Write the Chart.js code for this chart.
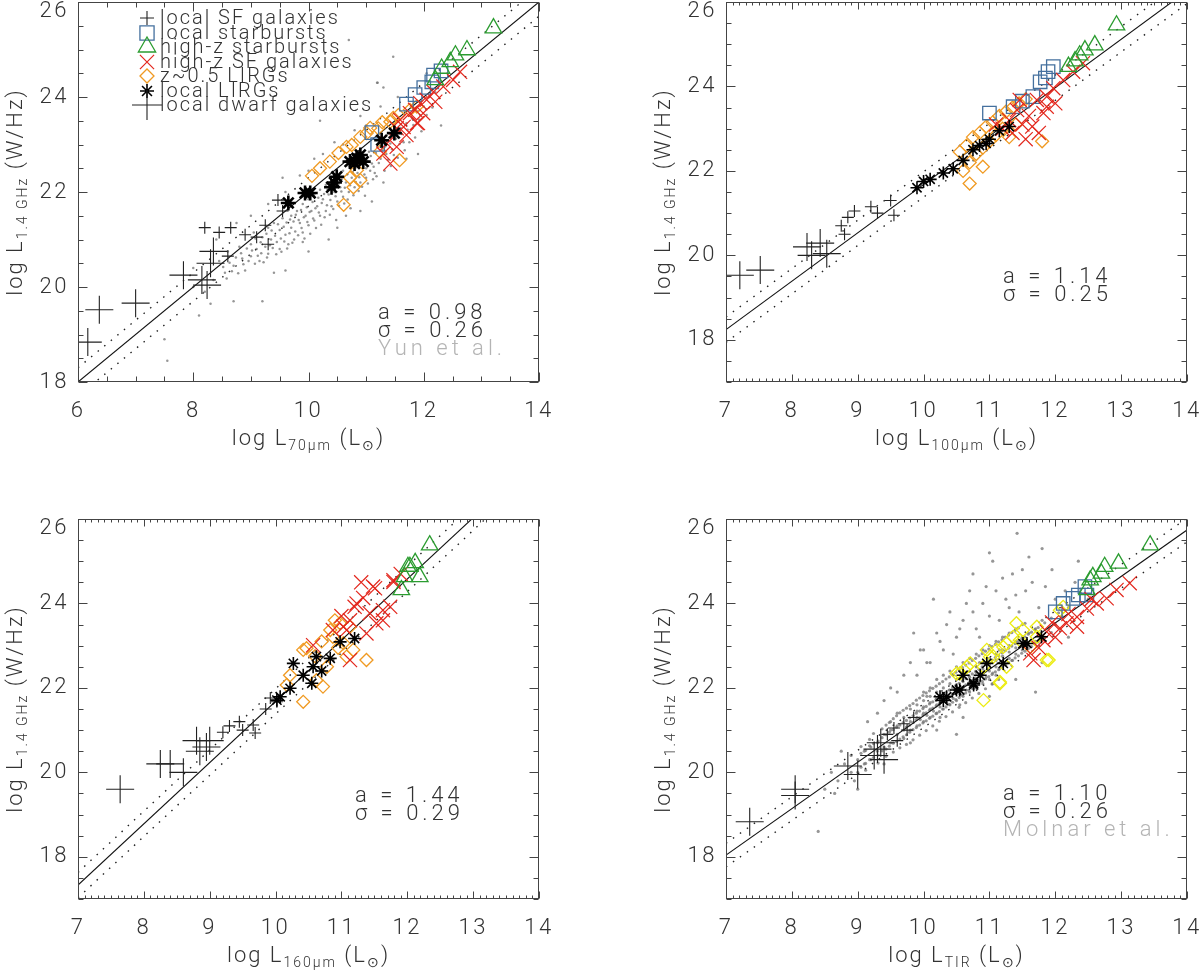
<!DOCTYPE html>
<html><head><meta charset="utf-8">
<script src="https://cdn.jsdelivr.net/npm/chart.js@4.4.1/dist/chart.umd.min.js"></script>
<style>
html,body{margin:0;padding:0;background:#fff;}
body{width:1200px;height:974px;position:relative;overflow:hidden;}
canvas{position:absolute;}
</style></head><body>
<canvas id="c1" width="600" height="487" style="left:0;top:0"></canvas>
<canvas id="c2" width="600" height="487" style="left:600px;top:0"></canvas>
<canvas id="c3" width="600" height="487" style="left:0;top:487px"></canvas>
<canvas id="c4" width="600" height="487" style="left:600px;top:487px"></canvas>
<script>
// ================= DATA =================
const legendLabels = ['local SF galaxies','local starbursts','high-z starbursts','high-z SF galaxies','z~0.5 LIRGs','local LIRGs','local dwarf galaxies'];
const xBandNames = ['70μm','100μm','160μm','TIR'];
const fitAText = ['0.98','1.14','1.44','1.10'];
const fitSigmaText = ['0.26','0.25','0.29','0.26'];
const refNames = ['Yun et al.','','','Molnar et al.'];
const xTickValuesP1 = [6,8,10,12,14];
const xTickValues = [7,8,9,10,11,12,13,14];
const yTickValues = [18,20,22,24,26];
// fit lines: y = fitY0 + fitSlope*(x - fitX0), dotted = +/- fitBand
const fitX0 = [6,7,7,7];
const fitY0 = [18.0,18.24,17.33,18.04];
const fitSlope = [1.0,1.146,1.45,1.10];
const fitBand = [0.3,0.3,0.3,0.28];

// ---- Panel 1 : L70um ----
const p1Grey = [[8.35,20.15],[8.45,20.55],[8.55,20.3],[8.6,20.75],[8.7,20.45],[8.8,20.85],[8.85,20.6],[8.9,20.35],[9.0,20.9],[9.0,20.65],[9.05,21.15],[9.1,20.8],[9.15,20.55],[9.2,21.05],[9.25,20.85],[9.3,21.25],[9.3,20.7],[9.35,21.0],[9.4,21.35],[9.45,20.95],[9.5,21.2],[9.5,20.8],[9.55,21.45],[9.6,21.1],[9.65,20.9],[9.7,21.5],[9.7,21.25],[9.75,21.0],[9.8,21.6],[9.85,21.35],[9.9,21.15],[9.9,21.75],[9.95,21.5],[10.0,21.3],[10.0,21.85],[10.05,21.6],[10.1,21.4],[10.1,21.95],[10.15,21.7],[10.2,21.5],[10.2,22.05],[10.25,21.85],[10.3,21.6],[10.3,22.15],[10.35,21.95],[10.4,21.7],[10.4,22.25],[10.45,22.0],[10.5,21.8],[10.5,22.35],[10.55,22.1],[10.6,21.9],[10.6,22.45],[10.65,22.2],[10.7,22.0],[10.7,22.55],[10.75,22.3],[10.8,22.1],[10.8,22.65],[10.85,22.4],[10.9,22.2],[10.95,22.75],[11.0,22.5],[11.0,22.3],[11.05,22.85],[11.1,22.6],[11.15,22.4],[11.2,22.95],[11.25,22.7],[11.3,23.05],[11.35,22.8],[11.4,23.15],[11.45,22.9],[11.5,23.25],[11.6,23.35],[11.65,23.05],[11.7,23.45],[11.8,23.55],[11.9,23.7],[12.0,23.8],[12.1,24.0],[12.2,24.1],[7.5,18.9],[7.55,18.45],[8.2,19.9],[8.3,19.65],[9.2,19.7],[8.75,21.35],[9.3,21.75],[9.6,22.0],[10.0,22.45],[10.25,22.8],[10.6,23.0],[11.0,23.4],[11.25,23.8],[11.2,24.3],[10.7,25.2],[11.47,24.85],[10.2,23.5],[12.3,23.4],[11.7,22.7],[10.9,21.6],[10.0,20.75],[9.4,20.3],[10.5,21.25],[11.3,22.2],[8.0,20.0],[8.1,19.4],[9.85,22.35],[10.8,23.3],
[8.52,20.42],[8.58,20.18],[8.63,20.51],[8.67,20.33],[8.74,20.62],[8.78,20.29],[8.83,20.71],[8.87,20.48],[8.93,20.81],[8.96,20.55],[9.02,20.77],[9.07,20.49],[9.08,21.02],[9.12,20.66],[9.17,20.94],[9.18,20.71],[9.22,20.52],[9.27,21.12],[9.28,20.62],[9.33,20.88],[9.36,21.19],[9.38,20.82],[9.42,21.08],[9.44,20.69],[9.47,21.32],[9.52,21.02],[9.53,20.74],[9.57,21.27],[9.58,20.96],[9.62,21.36],[9.63,20.81],[9.67,21.13],[9.68,21.42],[9.72,20.93],[9.74,21.38],[9.77,21.17],[9.78,21.52],[9.82,21.09],[9.83,21.41],[9.87,21.62],[9.88,21.24],[9.92,21.47],[9.93,21.02],[9.97,21.68],[9.98,21.37],[10.02,21.58],[10.03,21.12],[10.07,21.79],[10.08,21.44],[10.12,21.66],[10.13,21.24],[10.17,21.88],[10.18,21.57],[10.22,21.31],[10.23,21.77],[10.27,21.96],[10.28,21.47],[10.32,21.72],[10.33,22.05],[10.37,21.52],[10.38,21.83],[10.42,22.12],[10.43,21.64],[10.47,21.91],[10.48,21.41],[10.52,22.17],[10.53,21.71],[10.57,22.01],[10.58,22.28],[10.62,21.76],[10.63,22.09],[10.67,22.37],[10.68,21.84],[10.72,22.14],[10.73,21.66],[10.77,22.42],[10.78,21.93],[10.82,22.21],[10.83,22.52],[10.87,22.02],[10.88,22.31],[10.92,22.58],[10.93,22.11],[10.97,22.37],[10.98,21.92],[11.02,22.66],[11.03,22.18],[11.07,22.45],[11.08,22.76],[11.12,22.27],[11.13,22.53],[11.17,22.82],[11.18,22.33],[11.22,22.61],[11.28,22.88],[11.32,22.45],[11.33,22.96],[11.38,22.68],[11.42,23.02],[11.43,22.55],[11.48,22.78],[11.52,23.12],[11.55,22.72],[11.58,23.01],[11.62,23.22],[11.67,22.88],[11.72,23.31],[11.75,23.05],[11.82,23.41],[11.85,23.15],[11.92,23.52],[11.96,23.28],[12.05,23.62],[12.15,23.78],
[8.0,20.4],[8.4,21.0],[9.0,21.5],[9.55,22.3],[10.1,22.7],[10.45,23.05],[10.9,23.6],[11.55,24.0],[12.05,24.5],[8.7,19.7],[9.6,20.35],[10.35,21.0],[11.1,21.8],[11.9,22.8],[9.9,20.95],[10.65,21.5],[11.19,24.3],[11.3,24.2]];
const p1LocalSF = [[8.2,21.25],[8.45,21.15],[8.65,21.25],[8.9,21.1],[9.25,21.3],[9.3,20.9],[9.47,21.83],[9.55,21.6],[8.6,20.65],[9.1,21.05]];
const p1Starburst = [[11.1,23.25],[11.2,23.0],[11.7,23.85],[11.85,24.05],[12.0,24.2],[12.14,24.32],[12.17,24.46],[12.3,24.55]];
const p1HighzSB = [[13.21,25.45],[12.75,24.99],[12.55,24.88],[12.46,24.74],[12.31,24.6],[12.2,24.36]];
const p1HighzSF = [[12.63,24.53],[12.51,24.36],[12.34,24.22],[12.17,24.11],[12.05,23.94],[11.94,23.87],[11.85,23.73],[11.76,23.66],[11.59,23.52],[11.53,23.34],[11.65,23.37],[11.9,23.45],[11.36,23.02],[11.3,22.81],[11.42,22.6],[11.53,22.95],[11.99,23.66],[11.88,23.45],[12.2,23.9],[11.7,23.2]];
const p1Lirg05 = [[10.06,22.34],[10.2,22.5],[10.37,22.64],[10.52,22.82],[10.66,22.95],[10.75,22.99],[10.9,23.16],[11.01,23.24],[11.21,23.34],[11.42,23.48],[11.56,23.62],[10.72,22.3],[10.78,22.1],[10.9,22.25],[10.61,21.73],[11.58,22.67],[11.24,22.85],[10.84,22.46],[11.76,23.73],[11.88,23.8],[11.47,23.56],[11.28,23.47],[11.07,23.35]];
const p1LocalLirg = [[9.65,21.77],[9.94,21.98],[10.03,21.98],[10.4,22.1],[10.49,22.32],[10.72,22.64],[10.84,22.71],[10.95,22.64],[10.9,22.78],[11.27,23.09],[11.49,23.24],[10.45,22.2],[10.8,22.6]];
const p1Dwarf = [[6.17,18.84],[6.37,19.52],[7.0,19.66],[7.83,20.25],[8.15,20.15],[8.24,20.04],[8.3,20.5],[8.35,20.75]];

// ---- Panel 2 : L100um ----
const p2LocalSF = [[8.75,20.7],[8.85,20.9],[8.95,21.05],[9.2,21.15],[9.3,21.0],[9.55,20.95],[9.5,21.3],[8.8,20.5]];
const p2Starburst = [[11.66,23.76],[11.77,24.11],[11.89,24.35],[11.97,24.47],[11.36,23.52],[11.0,23.37],[11.5,23.65],[11.85,24.2]];
const p2HighzSB = [[12.93,25.45],[12.6,24.98],[12.45,24.86],[12.37,24.74],[12.2,24.47],[12.3,24.6]];
const p2HighzSF = [[12.42,24.55],[12.27,24.35],[12.12,24.15],[11.97,23.96],[11.87,23.76],[11.72,23.68],[11.46,23.68],[11.87,23.52],[11.82,23.37],[11.42,23.44],[11.6,23.3],[11.3,23.2],[11.2,23.0],[11.5,23.1],[11.65,23.05],[11.1,23.1],[11.35,22.9],[12.0,23.6],[11.75,22.9],[11.55,22.75]];
const p2Lirg05 = [[10.55,22.45],[10.65,22.6],[10.75,22.8],[10.85,22.9],[10.95,23.05],[11.05,23.15],[11.15,23.3],[11.25,23.4],[11.35,23.5],[11.45,23.6],[11.55,23.7],[10.7,22.2],[10.8,22.4],[10.9,22.55],[11.0,22.7],[11.1,22.85],[11.2,23.0],[10.6,22.0],[10.7,21.7],[10.9,22.1],[11.8,22.7],[11.4,23.1],[11.3,22.8]];
const p2LocalLirg = [[9.9,21.6],[10.0,21.75],[10.1,21.8],[10.3,21.95],[10.45,22.05],[10.6,22.25],[10.75,22.5],[10.85,22.6],[11.0,22.75],[11.15,22.95],[11.3,23.05],[10.95,22.65]];
const p2Dwarf = [[7.21,19.53],[7.52,19.65],[8.23,20.2],[8.53,20.04],[8.43,20.29],[8.3,20.0]];

// ---- Panel 3 : L160um ----
const p3LocalSF = [[9.3,21.1],[9.45,21.2],[9.5,21.0],[9.66,21.12],[9.69,20.93],[9.92,21.76],[10.02,21.67],[9.85,21.5],[9.2,20.95]];
const p3HighzSB = [[12.34,25.38],[12.01,24.87],[12.12,24.96],[12.19,24.63],[11.96,24.63],[11.91,24.32],[12.04,24.87]];
const p3HighzSF = [[11.79,24.51],[11.51,24.36],[11.33,24.13],[11.2,23.92],[11.63,23.84],[11.74,23.92],[11.43,23.77],[11.13,23.6],[11.53,23.53],[11.08,23.37],[11.38,23.29],[10.87,23.37],[11.13,22.66],[11.23,24.0],[11.48,24.4],[11.03,23.45],[10.57,23.01],[11.63,23.6],[11.79,24.55],[11.9,24.7],[11.3,24.5],[11.0,23.7]];
const p3Lirg05 = [[10.42,22.9],[10.83,23.37],[10.87,23.21],[10.98,23.53],[11.13,23.45],[11.08,22.74],[11.38,22.66],[10.78,22.5],[10.22,22.3],[10.17,22.07],[10.42,21.67],[10.62,22.18],[11.03,23.06],[10.72,22.03],[10.47,22.94],[11.18,22.9],[10.9,23.6],[10.7,23.1],[10.95,22.95],[10.6,22.75]];
const p3LocalLirg = [[10.98,23.09],[11.2,23.17],[10.83,22.7],[10.57,22.5],[10.42,22.3],[10.27,22.58],[10.55,22.11],[10.22,21.99],[10.07,21.79],[10.02,21.71],[10.62,22.74],[10.7,22.4]];
const p3Dwarf = [[7.64,19.6],[8.25,20.2],[8.4,20.2],[8.6,20.0],[8.8,20.75],[8.95,20.6],[8.85,20.5],[9.0,20.75]];

// ---- Panel 4 : LTIR ----
const p4Grey = [[8.5,19.6],[8.6,20.0],[8.7,19.8],[8.8,20.2],[8.9,20.0],[8.9,20.4],[9.0,20.3],[9.0,20.0],[9.1,20.5],[9.1,20.2],[9.2,20.6],[9.2,20.3],[9.3,20.7],[9.3,20.5],[9.4,20.9],[9.4,20.6],[9.5,21.0],[9.5,20.7],[9.5,21.2],[9.6,20.9],[9.6,21.1],[9.6,21.4],[9.7,21.0],[9.7,21.3],[9.7,20.8],[9.8,21.2],[9.8,21.5],[9.8,21.0],[9.9,21.3],[9.9,21.6],[9.9,21.1],[10.0,21.4],[10.0,21.7],[10.0,21.2],[10.0,21.9],[10.1,21.5],[10.1,21.8],[10.1,21.3],[10.1,22.0],[10.2,21.6],[10.2,21.9],[10.2,21.4],[10.2,22.2],[10.3,21.7],[10.3,22.0],[10.3,21.5],[10.3,22.3],[10.4,21.8],[10.4,22.1],[10.4,21.6],[10.4,22.4],[10.5,21.9],[10.5,22.2],[10.5,21.7],[10.5,22.5],[10.6,22.0],[10.6,22.3],[10.6,21.8],[10.6,22.6],[10.7,22.1],[10.7,22.4],[10.7,21.9],[10.7,22.7],[10.8,22.2],[10.8,22.5],[10.8,22.0],[10.8,22.8],[10.9,22.3],[10.9,22.6],[10.9,22.1],[10.9,22.9],[11.0,22.4],[11.0,22.7],[11.0,22.2],[11.0,23.0],[11.1,22.5],[11.1,22.8],[11.1,22.3],[11.1,23.1],[11.2,22.6],[11.2,22.9],[11.2,23.2],[11.3,22.7],[11.3,23.0],[11.3,23.3],[11.4,22.8],[11.4,23.1],[11.4,23.4],[11.5,22.9],[11.5,23.2],[11.5,23.5],[11.6,23.0],[11.6,23.3],[11.7,23.1],[11.7,23.4],[11.8,23.2],[11.8,23.6],[11.9,23.4],[12.0,23.5],[12.1,23.7],[12.2,23.9],[9.3,21.4],[9.6,21.9],[9.9,22.3],[10.1,22.6],[10.3,22.9],[10.5,23.2],[10.6,23.6],[10.8,23.4],[10.9,24.0],[11.0,23.7],[11.1,24.3],[11.2,24.6],[11.3,23.9],[11.4,24.2],[11.5,24.8],[11.6,25.1],[11.42,25.66],[10.75,24.7],[11.05,25.0],[11.85,24.4],[12.0,24.1],[10.2,23.3],[10.4,23.8],[9.8,22.6],[9.5,22.0],[10.7,24.3],[11.8,25.3],[12.3,24.5],[10.0,22.9],[11.25,24.1],[9.0,19.6],[9.4,20.2],[9.8,20.7],[10.2,21.0],[10.6,21.3],[11.0,21.8],[11.4,22.2],[11.8,22.6],[12.2,23.2],[8.4,18.6],[10.5,20.9],[11.7,21.9],[9.9,21.45],[10.0,21.55],[10.05,21.35],[10.1,21.65],[10.15,21.45],[10.2,21.75],[10.25,21.55],[10.3,21.85],[10.35,21.65],[10.4,21.95],[10.45,21.75],[10.5,22.05],[10.55,21.85],[10.6,22.15],[10.65,21.95],[10.7,22.25],[10.75,22.05],[10.8,22.35],[10.85,22.15],[10.9,22.45],[10.95,22.25],[11.0,22.55],[11.05,22.35],[11.1,22.65],[11.15,22.45],[11.2,22.75],[11.25,22.55],[11.3,22.85],[11.35,22.65],[11.4,22.95],[9.95,21.25],[10.05,21.8],[10.25,21.3],[10.45,22.3],[10.55,21.6],[10.85,22.6],[11.05,22.1],[11.15,22.9],
[9.05,20.12],[9.05,20.45],[9.05,20.61],[9.12,20.21],[9.12,20.52],[9.12,20.05],[9.18,20.63],[9.18,20.30],[9.18,20.78],[9.24,20.35],[9.24,20.68],[9.24,20.92],[9.31,20.41],[9.31,20.74],[9.31,20.22],[9.37,20.82],[9.37,20.51],[9.37,21.03],[9.43,20.55],[9.43,20.89],[9.43,20.38],[9.43,21.12],[9.48,20.95],[9.48,20.62],[9.48,21.18],[9.54,20.69],[9.54,21.01],[9.54,20.48],[9.54,21.27],[9.59,21.07],[9.59,20.73],[9.59,21.34],[9.64,20.79],[9.64,21.12],[9.64,20.58],[9.64,21.41],[9.69,21.18],[9.69,20.84],[9.69,21.47],[9.74,20.89],[9.74,21.23],[9.74,20.66],[9.74,21.52],[9.74,21.07],[9.79,21.29],[9.79,20.95],[9.79,21.58],[9.79,21.12],[9.84,21.01],[9.84,21.34],[9.84,20.77],[9.84,21.63],[9.84,21.18],[9.89,21.40],[9.89,21.06],[9.89,21.71],[9.89,21.25],[9.94,21.12],[9.94,21.45],[9.94,20.88],[9.94,21.76],[9.94,21.29],[9.99,21.51],[9.99,21.17],[9.99,21.82],[9.99,21.36],[10.04,21.22],[10.04,21.56],[10.04,20.99],[10.04,21.88],[10.04,21.41],[10.09,21.62],[10.09,21.28],[10.09,21.93],[10.09,21.47],[10.14,21.33],[10.14,21.67],[10.14,21.10],[10.14,21.99],[10.14,21.52],[10.19,21.73],[10.19,21.39],[10.19,22.04],[10.19,21.57],[10.24,21.44],[10.24,21.78],[10.24,21.21],[10.24,22.10],[10.24,21.63],[10.29,21.84],[10.29,21.50],[10.29,22.15],[10.29,21.68],[10.34,21.55],[10.34,21.89],[10.34,21.32],[10.34,22.21],[10.34,21.74],[10.39,21.95],[10.39,21.61],[10.39,22.26],[10.39,21.79],[10.44,21.66],[10.44,22.00],[10.44,21.43],[10.44,22.32],[10.44,21.85],[10.49,22.06],[10.49,21.72],[10.49,22.37],[10.49,21.90],[10.54,21.77],[10.54,22.11],[10.54,21.54],[10.54,22.43],[10.54,21.96],[10.59,22.17],[10.59,21.83],[10.59,22.48],[10.59,22.01],[10.64,21.88],[10.64,22.22],[10.64,21.65],[10.64,22.54],[10.64,22.07],[10.69,22.28],[10.69,21.94],[10.69,22.59],[10.69,22.12],[10.74,21.99],[10.74,22.33],[10.74,21.76],[10.74,22.65],[10.74,22.18],[10.79,22.39],[10.79,22.05],[10.79,22.70],[10.79,22.23],[10.84,22.10],[10.84,22.44],[10.84,21.87],[10.84,22.76],[10.84,22.29],[10.89,22.50],[10.89,22.16],[10.89,22.81],[10.89,22.34],[10.94,22.21],[10.94,22.55],[10.94,21.98],[10.94,22.87],[10.94,22.40],[10.99,22.61],[10.99,22.27],[10.99,22.92],[11.04,22.32],[11.04,22.66],[11.04,22.09],[11.04,22.98],[11.09,22.72],[11.09,22.38],[11.09,23.03],[11.14,22.43],[11.14,22.77],[11.14,22.20],[11.14,23.09],[11.19,22.83],[11.19,22.49],[11.19,23.14],[11.24,22.54],[11.24,22.88],[11.24,23.20],[11.29,22.94],[11.29,22.60],[11.29,23.25],[11.34,22.65],[11.34,22.99],[11.34,23.31],[11.39,23.05],[11.39,22.71],[11.39,23.36],[11.44,22.76],[11.44,23.10],[11.44,23.42],[11.49,23.16],[11.49,22.82],[11.54,22.87],[11.54,23.21],[11.54,23.53],[11.59,23.27],[11.59,22.93],[11.64,22.98],[11.64,23.32],[11.69,23.38],[11.69,23.04],[11.74,23.09],[11.74,23.43],[11.84,23.20],[11.84,23.54],[11.94,23.31],[11.94,23.65],[12.05,23.78],
[9.7,22.3],[10.05,22.6],[10.25,23.1],[10.45,22.8],[10.55,23.4],[10.65,24.0],[10.85,23.2],[10.95,24.4],[11.15,23.6],[11.35,24.7],[11.45,23.8],[11.65,24.5],[11.75,23.9],[11.95,24.8],[12.15,24.3],[10.35,23.5],[9.95,22.9],[10.75,23.8],[11.55,24.3],[12.35,25.0],[10.15,24.1],[11.0,25.2],[9.85,23.3],[9.4,21.7],[9.15,21.2],[8.75,20.5],[8.65,19.5],[8.95,19.8],[12.5,24.1]];
const p4LocalSF = [[9.45,20.9],[9.55,21.05],[9.7,21.15],[9.85,21.3],[9.6,20.75],[9.75,21.0]];
const p4Starburst = [[12.45,24.4],[12.27,24.12],[12.12,24.0],[12.0,23.8],[12.48,24.2],[12.35,24.2]];
const p4HighzSB = [[13.44,25.38],[12.96,24.95],[12.75,24.87],[12.7,24.71],[12.57,24.63],[12.53,24.55],[12.48,24.32]];
const p4HighzSF = [[13.13,24.48],[12.93,24.32],[12.78,24.12],[12.63,24.0],[12.48,23.88],[12.33,23.68],[12.17,23.53],[12.07,23.41],[11.87,23.33],[11.82,23.13],[11.67,22.66],[11.62,22.82],[12.33,23.45],[12.0,23.2],[11.95,23.55],[12.2,23.75],[11.75,22.95],[12.55,24.1]];
const p4Lirg05 = [[11.87,22.66],[11.62,22.97],[11.72,23.21],[11.51,23.37],[11.46,23.13],[11.36,23.21],[11.21,22.97],[11.11,22.9],[11.01,22.74],[10.91,22.5],[10.71,22.58],[10.55,22.34],[10.91,21.71],[11.16,22.11],[11.26,22.5],[12.07,23.84],[11.41,23.53],[10.5,22.34],[10.66,22.5],[10.96,22.9],[11.06,22.74],[11.16,22.14],[11.9,22.66],[12.12,23.92],[11.72,23.45],[11.26,23.05]];
const p4LocalLirg = [[10.86,22.3],[10.96,22.58],[11.21,22.58],[10.76,22.07],[10.5,21.95],[11.57,23.05],[11.79,23.21],[10.25,21.79],[10.35,21.79],[10.55,21.95],[10.76,22.11],[11.51,23.05],[10.3,21.7],[10.6,22.3]];
const p4Dwarf = [[7.36,18.83],[8.05,19.6],[8.05,19.45],[8.85,20.15],[9.0,19.95],[9.3,20.55],[9.35,20.7],[9.4,20.3],[9.25,20.4]];

// ================= STYLE / LAYOUT =================
const FONT = "Roboto, 'Liberation Sans', 'DejaVu Sans', sans-serif";
const INK = '#333';
const seriesStyle = {
  localSF:   {pointStyle:'cross',    color:'#222',    radius:6,   bw:1.1},
  starburst: {pointStyle:'rect',     color:'#44709e', radius:9.5, bw:1.3},
  highzSB:   {pointStyle:'triangle', color:'#2b9c30', radius:9.5, bw:1.3},
  highzSF:   {pointStyle:'crossRot', color:'#e3261c', radius:10,  bw:1.2},
  lirg05:    {pointStyle:'rectRot',  color:'#f09a22', radius:6.5, bw:1.3},
  localLirg: {pointStyle:'star',     color:'#000',    radius:6.5, bw:1.6},
  dwarf:     {pointStyle:'cross',    color:'#222',    radius:14,  bw:1.1}
};
const legendKeys = ['localSF','starburst','highzSB','highzSF','lirg05','localLirg','dwarf'];

const YW = 60, XH = 60, CW = 600, CH = 487;
const panels = [
  {id:'c1', area:{l:78,r:539,t:2,b:382}, xr:[6,14], yr:[18,26], xMajor:2, xMinor:0.5, xTicks:xTickValuesP1,
   xLen:[9,5], grey:p1Grey, greyR:1.25, sets:{localSF:p1LocalSF,starburst:p1Starburst,highzSB:p1HighzSB,highzSF:p1HighzSF,lirg05:p1Lirg05,localLirg:p1LocalLirg,dwarf:p1Dwarf},
   lirgColor:'#f09a22', legend:true, ann:{dx:300, dy:311}, boldLirg:true},
  {id:'c2', area:{l:126,r:587,t:2,b:382}, xr:[7,14], yr:[17,26], xMajor:1, xMinor:0.1, xTicks:xTickValues,
   xLen:[7,3], grey:[], greyR:1, sets:{localSF:p2LocalSF,starburst:p2Starburst,highzSB:p2HighzSB,highzSF:p2HighzSF,lirg05:p2Lirg05,localLirg:p2LocalLirg,dwarf:p2Dwarf},
   lirgColor:'#f09a22', legend:false, ann:{dx:277, dy:275}},
  {id:'c3', area:{l:78,r:539,t:32,b:412}, xr:[7,14], yr:[17,26], xMajor:1, xMinor:0.1, xTicks:xTickValues,
   xLen:[7,3], grey:[], greyR:1, sets:{localSF:p3LocalSF,starburst:[],highzSB:p3HighzSB,highzSF:p3HighzSF,lirg05:p3Lirg05,localLirg:p3LocalLirg,dwarf:p3Dwarf},
   lirgColor:'#f09a22', legend:false, ann:{dx:277, dy:277}},
  {id:'c4', area:{l:126,r:587,t:32,b:412}, xr:[7,14], yr:[17,26], xMajor:1, xMinor:0.1, xTicks:xTickValues,
   xLen:[7,3], grey:p4Grey, greyR:1.6, sets:{localSF:p4LocalSF,starburst:p4Starburst,highzSB:p4HighzSB,highzSF:p4HighzSF,lirg05:p4Lirg05,localLirg:p4LocalLirg,dwarf:p4Dwarf},
   lirgColor:'#ecec12', legend:false, ann:{dx:277, dy:275}}
];

function setFont(ctx, size){ ctx.font = '300 ' + size + 'px ' + FONT; }
function drawRich(ctx, parts, x, y, align){
  let w = 0;
  for (const [t, sub] of parts){ setFont(ctx, sub?14:22); w += ctx.measureText(t).width; }
  let cx = align === 'center' ? x - w/2 : x;
  ctx.textAlign = 'left'; ctx.textBaseline = 'alphabetic';
  for (const [t, sub] of parts){ setFont(ctx, sub?14:22); ctx.fillText(t, cx, y + (sub?5:0)); cx += ctx.measureText(t).width; }
}
function drawMarker(ctx, st, r, bw, x, y){
  ctx.save();
  ctx.strokeStyle = st.color; ctx.fillStyle = 'rgba(0,0,0,0)'; ctx.lineWidth = bw;
  if (Chart.helpers && Chart.helpers.drawPoint){
    Chart.helpers.drawPoint(ctx, {pointStyle: st.pointStyle, radius: r, rotation: 0, borderWidth: bw}, x, y);
  }
  ctx.restore();
}

const framePlugin = {
  id:'frame',
  afterDatasetsDraw(chart){
    const o = chart.options.plugins.frame;
    const ctx = chart.ctx, a = chart.chartArea, xs = chart.scales.x, ys = chart.scales.y;
    ctx.save();
    ctx.strokeStyle = '#444'; ctx.lineWidth = 1;
    const L = Math.round(a.left)+0.5, R = Math.round(a.right)-0.5, T = Math.round(a.top)+0.5, B = Math.round(a.bottom)-0.5;
    ctx.strokeRect(L, T, R-L, B-T);
    ctx.beginPath();
    const nx = Math.round((xs.max - xs.min)/o.xMinor);
    for (let i=0;i<=nx;i++){
      const v = xs.min + i*o.xMinor;
      const q = v/o.xMajor, major = Math.abs(q - Math.round(q)) < 1e-6;
      const p = Math.round(xs.getPixelForValue(v)) + 0.5;
      const len = major ? o.xLen[0] : o.xLen[1];
      ctx.moveTo(p, B); ctx.lineTo(p, B - len);
      ctx.moveTo(p, T); ctx.lineTo(p, T + len);
    }
    const ny = Math.round((ys.max - ys.min)/0.5);
    for (let i=0;i<=ny;i++){
      const v = ys.min + i*0.5;
      const q = v/2, major = Math.abs(q - Math.round(q)) < 1e-6;
      const p = Math.round(ys.getPixelForValue(v)) + 0.5;
      const len = major ? 9 : 5;
      ctx.moveTo(L, p); ctx.lineTo(L + len, p);
      ctx.moveTo(R, p); ctx.lineTo(R - len, p);
    }
    ctx.stroke();
    ctx.restore();
  }
};

const textPlugin = {
  id:'texts',
  beforeDraw(chart){ chart.ctx.letterSpacing = '2.5px'; },
  beforeDatasetsDraw(chart){ chart.ctx.letterSpacing = '0px'; },
  afterDraw(chart){
    const o = chart.options.plugins.texts;
    const ctx = chart.ctx, a = chart.chartArea;
    ctx.save();
    ctx.fillStyle = INK;
    ctx.letterSpacing = '2px';
    drawRich(ctx, [['log L',0],[o.band,1],[' (L',0],['⊙',1],[')',0]], (a.left+a.right)/2, a.bottom + 63, 'center');
    ctx.save();
    ctx.translate(a.left - 56, (a.top + a.bottom)/2);
    ctx.rotate(-Math.PI/2);
    drawRich(ctx, [['log L',0],['1.4 GHz',1],[' (W/Hz)',0]], 0, 0, 'center');
    ctx.restore();
    ctx.letterSpacing = '4px';
    setFont(ctx, 22); ctx.textAlign = 'left'; ctx.textBaseline = 'middle';
    const ax = a.left + o.ann.dx, ay = a.top + o.ann.dy;
    ctx.fillStyle = INK;
    ctx.fillText('a = ' + o.a, ax, ay);
    ctx.fillText('σ = ' + o.s, ax, ay + 18);
    if (o.ref){ ctx.fillStyle = '#b4b4b4'; ctx.fillText(o.ref, ax, ay + 36); }
    if (o.legend){
      ctx.letterSpacing = '2px';
      const rows = [16,31,45,60,74,89,103];
      const lsz = {localSF:[7,1.1], starburst:[10,1.3], highzSB:[10,1.3], highzSF:[10,1.2], lirg05:[7,1.3], localLirg:[7,1.6], dwarf:[15,1.1]};
      legendKeys.forEach((k, i) => {
        const y = a.top + rows[i];
        drawMarker(ctx, seriesStyle[k], lsz[k][0], lsz[k][1], 147, y);
        setFont(ctx, 20); ctx.fillStyle = INK; ctx.textAlign = 'left'; ctx.textBaseline = 'middle';
        ctx.fillText(legendLabels[i], 160, y + 1);
      });
    }
    ctx.restore();
  }
};

function toXY(arr){ return arr.map(p => ({x:p[0], y:p[1]})); }

panels.forEach((P, idx) => {
  const canvas = document.getElementById(P.id);
  const datasets = [];
  if (P.grey.length){
    datasets.push({type:'scatter', label:'sample', data:toXY(P.grey), pointStyle:'circle', pointRadius:P.greyR,
      pointBackgroundColor:'rgba(115,115,115,0.75)', pointBorderWidth:0, order:100});
  }
  const fx0 = P.xr[0], fx1 = P.xr[1];
  const fy = x => fitY0[idx] + fitSlope[idx]*(x - fitX0[idx]);
  datasets.push({type:'line', label:'fit', data:[{x:fx0,y:fy(fx0)},{x:fx1,y:fy(fx1)}], borderColor:'#111', borderWidth:1.1, pointRadius:0, fill:false, order:50});
  [1,-1].forEach(sg => {
    datasets.push({type:'line', label:'band', data:[{x:fx0,y:fy(fx0)+sg*fitBand[idx]},{x:fx1,y:fy(fx1)+sg*fitBand[idx]}],
      borderColor:'#222', borderWidth:1.4, borderDash:[1.5,7], pointRadius:0, fill:false, order:49});
  });
  const orderMap = {lirg05:12, starburst:11, highzSF:10, highzSB:9, localSF:8, localLirg:7, dwarf:6};
  legendKeys.forEach((k, i) => {
    const d = P.sets[k]; if (!d || !d.length) return;
    const st = seriesStyle[k];
    const color = k === 'lirg05' ? P.lirgColor : st.color;
    let r = st.radius, bw = st.bw;
    if (k === 'localLirg' && P.boldLirg){ r = 7.5; bw = 2.6; }
    datasets.push({type:'scatter', label:legendLabels[i], data:toXY(d), pointStyle:st.pointStyle, pointRadius:r,
      pointBorderColor:color, pointBackgroundColor:'rgba(0,0,0,0)', pointBorderWidth:bw, order:orderMap[k]});
  });
  const tickFont = {family:FONT, size:22, weight:'300', lineHeight:0.82};
  new Chart(canvas, {
    type:'scatter',
    data:{datasets},
    options:{
      responsive:false, animation:false, devicePixelRatio:1,
      layout:{autoPadding:false, padding:{left:P.area.l - YW, right:CW - P.area.r, top:P.area.t, bottom:CH - P.area.b - XH}},
      scales:{
        x:{type:'linear', position:'bottom', min:P.xr[0], max:P.xr[1],
           grid:{display:false, drawTicks:false}, border:{display:false},
           ticks:{stepSize:P.xMajor, autoSkip:false, maxRotation:0, padding:20, color:INK, font:tickFont,
             callback:v => P.xTicks.some(t => Math.abs(t - v) < 1e-6) ? String(v) : null},
           afterFit(s){ s.height = XH; s.paddingLeft = 0; s.paddingRight = 0; }},
        y:{type:'linear', position:'left', min:P.yr[0], max:P.yr[1],
           grid:{display:false, drawTicks:false}, border:{display:false},
           ticks:{stepSize:2, autoSkip:false, padding:9, color:INK, font:tickFont,
             callback:v => {
               if (!yTickValues.some(t => Math.abs(t - v) < 1e-6)) return null;
               return Math.abs(v - P.yr[1]) < 1e-6 ? ['', String(v)] : String(v);
             }},
           afterFit(s){ s.width = YW; s.paddingTop = 0; s.paddingBottom = 0; }}
      },
      plugins:{
        legend:{display:false}, tooltip:{enabled:false},
        frame:{xMinor:P.xMinor, xMajor:P.xMajor, xLen:P.xLen},
        texts:{band:xBandNames[idx], a:fitAText[idx], s:fitSigmaText[idx], ref:refNames[idx], ann:P.ann, legend:P.legend}
      }
    },
    plugins:[framePlugin, textPlugin]
  });
});
</script>
</body></html>
